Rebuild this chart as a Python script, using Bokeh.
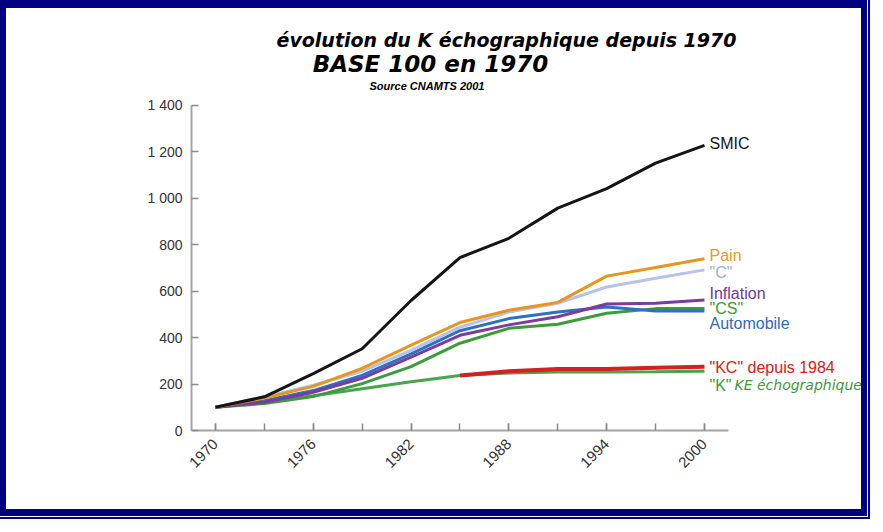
import math
from bokeh.plotting import figure
from bokeh.models import Range1d, FixedTicker, ColumnDataSource, Label
from bokeh.core.properties import value
from bokeh.embed import file_html
from bokeh.resources import INLINE

# ---------------- data (base 100 en 1970) ----------------
years = [1970, 1973, 1976, 1979, 1982, 1985, 1988, 1991, 1994, 1997, 2000]
smic = [100, 145, 245, 352, 560, 745, 828, 958, 1042, 1152, 1228]
pain = [100, 140, 190, 268, 368, 465, 518, 552, 665, 702, 740]
c_val = [100, 145, 195, 255, 345, 445, 510, 548, 618, 656, 692]
inflation = [100, 122, 165, 225, 316, 410, 455, 490, 545, 548, 562]
automobile = [100, 128, 172, 237, 330, 430, 482, 510, 532, 515, 515]
cs_val = [100, 116, 146, 202, 275, 376, 440, 458, 505, 525, 525]
k_val = [100, 122, 150, 180, 210, 237, 248, 252, 252, 253, 255]
kc_years = [1985, 1988, 1991, 1994, 1997, 2000]
kc_val = [237, 255, 265, 265, 270, 275]

y_ticks = [0, 200, 400, 600, 800, 1000, 1200, 1400]
y_tick_labels = ["0", "200", "400", "600", "800", "1 000", "1 200", "1 400"]
x_label_years = [1970, 1976, 1982, 1988, 1994, 2000]

series_names = ["SMIC", "Pain", '"C"', "Inflation", '"CS"', "Automobile",
                '"KC" depuis 1984', '"K"']
series_label_y = [1236, 754, 681, 590, 526, 461, 271, 194]

title_1 = "évolution du K échographique depuis 1970"
title_2 = "BASE 100 en 1970"
title_3 = "Source CNAMTS  2001"
k_extra = "KE échographique"

# ---------------- styles ----------------
col_smic = "#151515"
col_pain = "#e8951e"
col_c = "#b6c2ee"
col_infl = "#7a3c9e"
col_cs = "#3c9c3c"
col_auto = "#2f6fc4"
col_kc = "#d42020"
col_k = "#4aa44a"
label_colors = [col_smic, "#e39a2a", "#9fb0e0", "#6e3a9a", "#3a9a3a", "#2e6ac0",
                col_kc, "#3a9a3a"]

# canvas sits at page (8, 8); frame: left page x 193, bottom page y 430
X0 = 1968.53
PX_PER_YEAR = 16.3
PX_PER_UNIT = 0.232143
X1 = X0 + (875 - 193) / PX_PER_YEAR
Y1 = (430 - 8) / PX_PER_UNIT

p = figure(width=867, height=516, output_backend="svg", toolbar_location=None,
           x_range=Range1d(X0, X1), y_range=Range1d(0, Y1),
           min_border_left=185, min_border_right=0, min_border_top=0,
           min_border_bottom=94)
p.outline_line_color = None
p.grid.visible = False
p.background_fill_color = "white"
p.border_fill_color = "white"
p.styles = {"border-style": "solid", "border-color": "#000080",
            "border-width": "8px 6px 7px 6px",
            "outline": "2px solid #000080", "outline-offset": "1px"}

# axes
for ax in (p.xaxis, p.yaxis):
    ax.axis_line_color = "#a5a5a5"
    ax.axis_line_width = 2
    ax.major_tick_line_color = "#8a8a8a"
    ax.major_tick_line_width = 1.5
    ax.major_tick_in = 7
    ax.major_tick_out = 0
    ax.major_label_text_font = "Liberation Sans"
    ax.major_label_text_font_size = "14px"
    ax.major_label_text_color = "#333333"

p.xaxis.bounds = (X0, 2001.47)
p.xaxis.ticker = FixedTicker(ticks=x_label_years, minor_ticks=years)
p.xaxis.minor_tick_in = 7
p.xaxis.minor_tick_out = 0
p.xaxis.minor_tick_line_color = "#8a8a8a"
p.xaxis.minor_tick_line_width = 1.5
p.xaxis.major_label_orientation = math.pi / 4
p.xaxis.major_label_standoff = 11
p.xaxis.major_label_text_font_size = "15px"

p.yaxis.bounds = (0, 1400)
p.yaxis.ticker = FixedTicker(ticks=y_ticks, minor_ticks=[])
p.yaxis.minor_tick_line_color = None
p.yaxis.major_label_overrides = {t: l for t, l in zip(y_ticks, y_tick_labels)}
p.yaxis.major_label_standoff = 9

# lines
src = ColumnDataSource(dict(year=years, smic=smic, pain=pain, c=c_val,
                            infl=inflation, auto=automobile, cs=cs_val, k=k_val))
src_kc = ColumnDataSource(dict(year=kc_years, kc=kc_val))

p.line("year", "k", source=src, line_color=col_k, line_width=3)
p.line("year", "kc", source=src_kc, line_color=col_kc, line_width=4)
p.line("year", "cs", source=src, line_color=col_cs, line_width=3)
p.line("year", "auto", source=src, line_color=col_auto, line_width=3)
p.line("year", "infl", source=src, line_color=col_infl, line_width=3)
p.line("year", "c", source=src, line_color=col_c, line_width=3)
p.line("year", "pain", source=src, line_color=col_pain, line_width=3)
p.line("year", "smic", source=src, line_color=col_smic, line_width=3)

# helpers: reference page pixels -> data units (layout positions only)
def px_x(px):
    return X0 + (px - 193) / PX_PER_YEAR

def px_y(py):
    return (430 - py) / PX_PER_UNIT

# series labels
lab_src = ColumnDataSource(dict(x=[px_x(711)] * len(series_names), y=series_label_y,
                                text=series_names, color=label_colors))
p.text("x", "y", text="text", source=lab_src, text_color="color",
       text_font=value("Liberation Sans"), text_font_size="16px",
       text_baseline="middle", text_align="left")
p.add_layout(Label(x=px_x(736), y=series_label_y[-1], text=k_extra,
                   text_color="#3a9a3a", text_font="DejaVu Sans",
                   text_font_style="italic", text_font_size="14px",
                   text_baseline="middle", text_align="left"))

# titles
p.add_layout(Label(x=px_x(508), y=px_y(39), text=title_1, text_font="DejaVu Sans",
                   text_font_style="bold italic", text_font_size="19px",
                   text_color="black", text_align="center", text_baseline="middle"))
p.add_layout(Label(x=px_x(432), y=px_y(63), text=title_2, text_font="DejaVu Sans",
                   text_font_style="bold italic", text_font_size="23px",
                   text_color="black", text_align="center", text_baseline="middle"))
p.add_layout(Label(x=px_x(430), y=px_y(85), text=title_3,
                   text_font="Liberation Sans",
                   text_font_style="bold italic", text_font_size="11px",
                   text_color="black", text_align="center", text_baseline="middle"))

open("out.html", "w").write(file_html(p, INLINE))
